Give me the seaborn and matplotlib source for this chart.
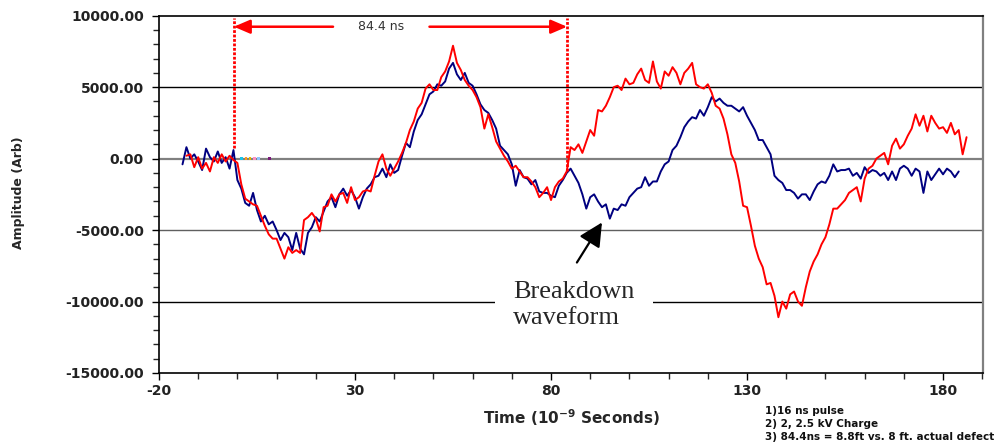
import numpy as np
import pandas as pd
import matplotlib
matplotlib.use("Agg")
import matplotlib.pyplot as plt
from matplotlib.ticker import MultipleLocator, FormatStrFormatter, FixedLocator
import seaborn as sns

# ---------------- data ----------------
blue_start = -14          # ns, first sample of the breakdown waveform
blue_values = [
    -400, 800, 0, 300, -200, -800, 700, 100, -200, 500, -300, 100, -700, 600,
    -1500, -2100, -3100, -3300, -2400, -3600, -4400, -4000, -4600, -4400,
    -5000, -5700, -5200, -5500, -6400, -5200, -6300, -6700, -5200, -4800,
    -4100, -4400, -3700, -3000, -2700, -3400, -2500, -2100, -2600, -2200,
    -2700, -3500, -2700, -2100, -1800, -1300, -1200, -700, -1300, -400,
    -1000, -800, 200, 1100, 800, 1900, 2700, 3100, 3800, 4500, 4700, 5200,
    5100, 5400, 6300, 6700, 5900, 5500, 6000, 5300, 5100, 4500, 3800, 3400,
    3200, 2700, 2100, 900, 600, 300, -400, -1900, -800, -1300, -1400, -1800,
    -1500, -2300, -2400, -2400, -2600, -2700, -1900, -1500, -1000, -700,
    -1200, -1700, -2500, -3500, -2700, -2500, -3000, -3400, -3200, -4200,
    -3500, -3600, -3200, -3300, -2700, -2400, -2100, -2000, -1300, -1900,
    -1600, -1600, -900, -400, -200, 600, 900, 1500, 2200, 2600, 2900, 2800,
    3400, 3000, 3600, 4300, 4000, 4200, 3900, 3700, 3700, 3500, 3300, 3600,
    3000, 2500, 2000, 1300, 1300, 800, 300, -1200, -1500, -1700, -2200,
    -2200, -2400, -2800, -2500, -2500, -2900, -2300, -1800, -1600, -1700,
    -1200, -400, -900, -800, -800, -700, -1200, -1000, -1400, -600, -1000,
    -800, -900, -1200, -1000, -1500, -900, -1500, -700, -500, -700, -1200,
    -700, -900, -2400, -900, -1500, -1100, -700, -1100, -700, -900, -1300,
    -900,
]
red_start = -13           # ns, first sample of the reference waveform
red_values = [
    200, 300, -600, 100, -700, -300, -900, 100, -300, 300, -200, 200, -100,
    -300, -1800, -2800, -3000, -3200, -3300, -4000, -4700, -5300, -5600,
    -5600, -6300, -7000, -6200, -6600, -6400, -6600, -4300, -4100, -3800,
    -4200, -5100, -3400, -3300, -2500, -3000, -2500, -2400, -3100, -2000,
    -2900, -2700, -2300, -2200, -2300, -1200, -200, 300, -700, -1200, -700,
    -200, 400, 1100, 2000, 2600, 3500, 3900, 4900, 5200, 4800, 4800, 5700,
    6100, 6800, 7900, 6700, 6200, 5500, 5100, 4800, 4300, 3600, 2100, 3100,
    2200, 1200, 700, 200, -200, -700, -500, -900, -1300, -1300, -1600, -2000,
    -2700, -2400, -2000, -2900, -2000, -1600, -1400, -900,
    800, 600, 1000, 400, 1200, 2000, 1600, 3400, 3300, 3700, 4300, 5000,
    5100, 4800, 5600, 5200, 5300, 5900, 6300, 5500, 5300, 6800, 5400, 4900,
    6100, 5800, 6400, 6000, 5200, 6000, 6300, 6700, 5200, 5000, 4900, 5200,
    4600, 3700, 3500, 2800, 1700, 300, -300, -1600, -3300, -3400, -4700,
    -6100, -7000, -7600, -8800, -8700, -9600, -11100, -10000, -10500, -9500,
    -9300, -10000, -10300, -9000, -7900, -7200, -6700, -6000, -5500, -4600,
    -3500, -3500, -3200, -2900, -2400, -2200, -2000, -3000, -1400, -700,
    -500, 0, 200, 400, -400, 900, 1400, 700, 1000, 1600, 2100, 3100, 2300,
    3000, 1900, 3000, 2500, 2100, 2200, 1800, 2500, 1700, 2000, 300, 1500,
]
# stray colored markers sitting on the zero line
dot_times = [1.1, 2.2, 3.2, 4.3, 5.3, 8.1]
dot_values = [0, 0, 0, 0, 0, 0]
dot_colors = ["#19c3e6", "#ff9a1a", "#e6b800", "#ff8fc0", "#8fc3ff", "#7a1a7a"]

# time-of-flight markers
marker_start, marker_end = -0.9, 84.1
marker_start_level, marker_end_level = 720, -840
marker_top = 9840
arrow_level = 9230
gap_left, gap_right = 24.4, 49.0
tof_label = "84.4 ns"

x_major_ticks = [-20, 30, 80, 130, 180]
grid_levels = [5000, 0, -5000, -10000]
grid_colors = ["#000000", "#808080", "#606060", "#000000"]

notes = ["1)16 ns pulse", "2) 2, 2.5 kV Charge",
         "3) 84.4ns = 8.8ft vs. 8 ft. actual defect"]

blue_df = pd.DataFrame({"t": blue_start + np.arange(len(blue_values)),
                        "amp": blue_values})
red_df = pd.DataFrame({"t": red_start + np.arange(len(red_values)),
                       "amp": red_values})

# ---------------- plotting ----------------
sns.set_style("ticks")
plt.rcParams["font.family"] = ["DejaVu Sans"]
plt.rcParams["axes.unicode_minus"] = False

fig = plt.figure(figsize=(9.98, 4.44), dpi=100)
ax = fig.add_axes([0.1593, 0.160, 0.8257, 0.8046])

for lvl, col in zip(grid_levels, grid_colors):
    ax.axhline(lvl, color=col, lw=1.6 if lvl == 0 else 1.0, zorder=1)

sns.lineplot(data=blue_df, x="t", y="amp", ax=ax, color="#000080",
             lw=1.4, sort=False, estimator=None, zorder=3)
sns.lineplot(data=red_df, x="t", y="amp", ax=ax, color="#ff0000",
             lw=1.4, sort=False, estimator=None, zorder=4)
ax.scatter(dot_times, dot_values, c=dot_colors, s=4, marker="s",
           zorder=5, linewidths=0)

# vertical dotted markers
ax.plot([marker_start, marker_start], [marker_start_level, marker_top],
        color="#ff0000", ls=(0, (1, 0.6)), lw=2.0, zorder=6)
ax.plot([marker_end, marker_end], [marker_end_level, marker_top],
        color="#ff0000", ls=(0, (1, 0.6)), lw=2.0, zorder=6)
# horizontal arrows
ap = dict(arrowstyle="-|>,head_length=0.7,head_width=0.3", color="#ff0000",
          lw=1.8, shrinkA=0, shrinkB=0, mutation_scale=14)
ax.annotate("", xy=(marker_start, arrow_level), xytext=(gap_left, arrow_level),
            arrowprops=ap, zorder=6)
ax.annotate("", xy=(marker_end, arrow_level), xytext=(gap_right, arrow_level),
            arrowprops=ap, zorder=6)
ax.text((gap_left + gap_right) / 2, arrow_level, tof_label, ha="center",
        va="center", fontsize=9, color="#333333")

# breakdown waveform label + arrow
ax.text(70.3, -10250, "Breakdown\nwaveform", family=["Liberation Serif"],
        fontsize=19, ha="left", va="center", linespacing=1.2, zorder=7,
        bbox=dict(boxstyle="square,pad=0.7", fc="white", ec="none"))
ax.annotate("", xy=(93.0, -4467), xytext=(86.6, -7272),
            arrowprops=dict(arrowstyle="-|>,head_length=0.9,head_width=0.45",
                            color="black", lw=1.6, shrinkA=0, shrinkB=0,
                            mutation_scale=16), zorder=7)

# axes styling
ax.set_xlim(-20, 190.2)
ax.set_ylim(-15000, 10000)
ax.xaxis.set_major_locator(FixedLocator(x_major_ticks))
ax.xaxis.set_minor_locator(MultipleLocator(10))
ax.yaxis.set_major_locator(MultipleLocator(5000))
ax.yaxis.set_minor_locator(MultipleLocator(1000))
ax.yaxis.set_major_formatter(FormatStrFormatter("%.2f"))
ax.tick_params(which="major", direction="out", length=5, width=1,
               labelsize=10, colors="black", pad=6)
ax.tick_params(which="minor", direction="out", length=4, width=1)
ax.tick_params(axis="x", which="major", pad=3)
for lab in ax.get_xticklabels() + ax.get_yticklabels():
    lab.set_fontweight("bold")
    lab.set_color("#222222")

for s in ["left", "bottom", "top"]:
    ax.spines[s].set_color("black")
    ax.spines[s].set_linewidth(1.2)
ax.spines["right"].set_color("#808080")
ax.spines["right"].set_linewidth(1.6)

ax.set_xlabel("Time (10$^{\\mathregular{-9}}$ Seconds)", fontsize=11,
              fontweight="bold", va="center")
ax.xaxis.set_label_coords(0.5, -0.126)
ax.set_ylabel("Amplitude (Arb)", fontsize=9, fontweight="bold")
ax.yaxis.set_label_coords(-0.163, 0.504)

for i, line in enumerate(notes):
    fig.text(0.7665, 1 - (411 + 13 * i) / 444, line, fontsize=7.5,
             fontweight="bold", ha="left", va="center", color="#111111")

fig.savefig("out.png", dpi=100)
